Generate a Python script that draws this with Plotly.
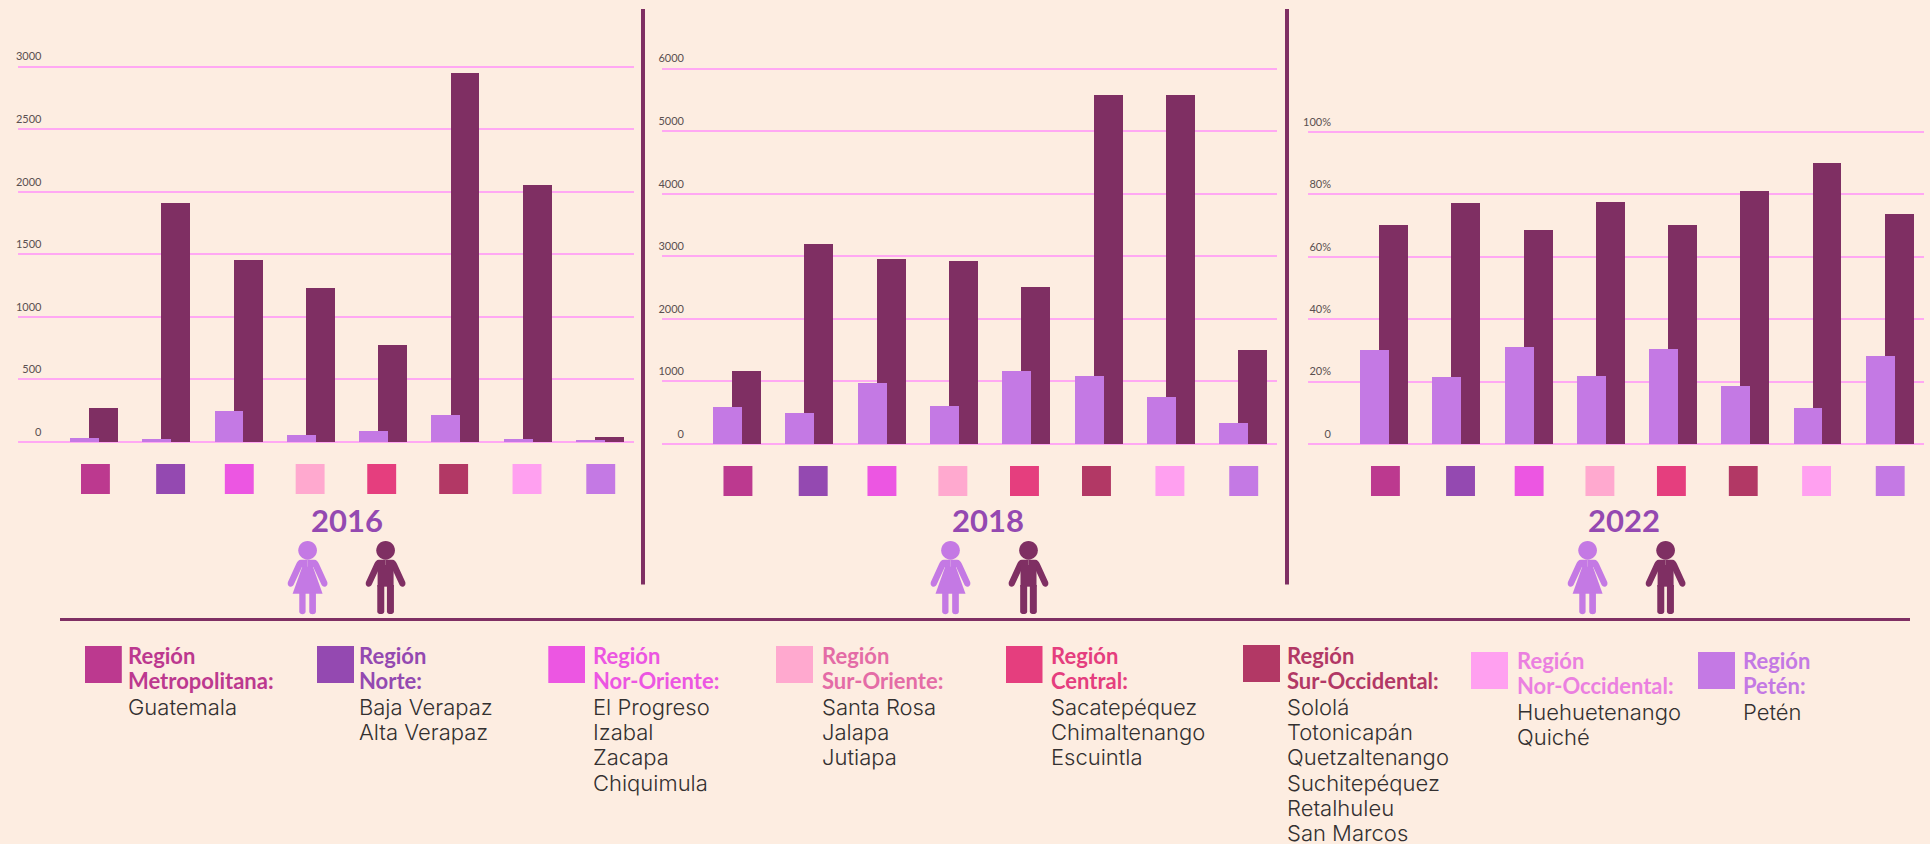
import plotly.graph_objects as go

W, H = 1930, 844
BG = "#FDEDE1"
DARK = "#7F2F63"
LIGHT = "#C479E4"
GRID = "#FFA8F3"
FONT = "Lato"
BODY_FONT = "Inter"

REGIONS = ["Metropolitana", "Norte", "Nor-Oriente", "Sur-Oriente",
           "Central", "Sur-Occidental", "Nor-Occidental", "Petén"]
SWATCHES = ["#BC398F", "#9449B1", "#EC56E2", "#FFA9CF",
            "#E53E7E", "#B23865", "#FFA0F0", "#C479E4"]
TITLE_COLORS = ["#BC398F", "#9449B1", "#EC56E2", "#E46CA6",
                "#E53E7E", "#B23865", "#EB80E0", "#C479E4"]
DEPARTMENTS = [
    ["Guatemala"],
    ["Baja Verapaz", "Alta Verapaz"],
    ["El Progreso", "Izabal", "Zacapa", "Chiquimula"],
    ["Santa Rosa", "Jalapa", "Jutiapa"],
    ["Sacatepéquez", "Chimaltenango", "Escuintla"],
    ["Sololá", "Totonicapán", "Quetzaltenango", "Suchitepéquez", "Retalhuleu", "San Marcos"],
    ["Huehuetenango", "Quiché"],
    ["Petén"],
]

women_2016 = [33, 26, 246, 56, 90, 219, 23, 19]
men_2016 = [273, 1906, 1451, 1232, 777, 2947, 2055, 42]
women_2018 = [590, 487, 966, 605, 1172, 1083, 747, 341]
men_2018 = [1166, 3199, 2952, 2925, 2514, 5571, 5576, 1505]
women_2022 = [30.1, 21.6, 31.3, 21.8, 30.5, 18.8, 11.6, 28.3]
men_2022 = [70.2, 77.4, 68.8, 77.6, 70.3, 81.3, 90.0, 73.8]

ticks_2016 = [0, 500, 1000, 1500, 2000, 2500, 3000]
ticks_2018 = [0, 1000, 2000, 3000, 4000, 5000, 6000]
ticks_2022 = [0, 20, 40, 60, 80, 100]
ticktext_2022 = ["0", "20%", "40%", "60%", "80%", "100%"]

# Small horizontal shift of each colour key under its bar group, in category units
SWATCH_NUDGE = [0.02, 0.06, 0.01, -0.01, -0.02, -0.025, -0.01, 0.01]
HEADROOM = 1.02  # range runs a little past the last tick so that its gridline is drawn

PANELS = [
    dict(year="2016", women=women_2016, men=men_2016, ticks=ticks_2016, text=[str(t) for t in ticks_2016],
         x0=18, x1=634, xr=(-1.051, 7.47), ytop=66.6, yzero=442, label_x=41.5, title_x=347.4, fem=307.6, mal=385.6, sw=(464, 494)),
    dict(year="2018", women=women_2018, men=men_2018, ticks=ticks_2018, text=[str(t) for t in ticks_2018],
         x0=661.6, x1=1277, xr=(-1.035, 7.47), ytop=68.6, yzero=444, label_x=684, title_x=988.3, fem=950.5, mal=1028.5, sw=(466, 496)),
    dict(year="2022", women=women_2022, men=men_2022, ticks=ticks_2022, text=ticktext_2022,
         x0=1307.8, x1=1923.8, xr=(-1.055, 7.475), ytop=132, yzero=444, label_x=1331, title_x=1624, fem=1587.6, mal=1665.6, sw=(466, 496)),
]


def px(x):
    return x / W


def py(y):
    return 1 - y / H


def path(cmds, cx, top=530.0):
    """Icon outline given in 1/3 px units round a centre line, returned in paper coordinates."""
    out = []
    for c in cmds:
        if c == "Z":
            out.append("Z")
            continue
        op, nums = c[0], c[1:]
        pts = []
        for i in range(0, len(nums), 2):
            pts.append(f"{px(cx + nums[i] / 3):.6f},{py(top + nums[i + 1] / 3):.6f}")
        out.append(op + " " + " ".join(pts))
    return " ".join(out)


def circle(cx_u, cy_u, r):
    k = 0.5523 * r
    return [("M", cx_u - r, cy_u),
            ("C", cx_u - r, cy_u - k, cx_u - k, cy_u - r, cx_u, cy_u - r),
            ("C", cx_u + k, cy_u - r, cx_u + r, cy_u - k, cx_u + r, cy_u),
            ("C", cx_u + r, cy_u + k, cx_u + k, cy_u + r, cx_u, cy_u + r),
            ("C", cx_u - k, cy_u + r, cx_u - r, cy_u + k, cx_u - r, cy_u), "Z"]


def leg(a, b, y0, y1):
    r = (b - a) / 2
    return [("M", a, y0), ("L", b, y0), ("L", b, y1 - r),
            ("C", b, y1, a, y1, a, y1 - r), "Z"]


def shoulders(s):
    """One side of the upper body with its arm; s=-1 left, s=1 right."""
    return [("M", 0, 89), ("L", s * 20, 89),
            ("C", s * 27, 89, s * 31, 94, s * 34, 101),
            ("L", s * 59, 156),
            ("C", s * 63, 172, s * 45, 175, s * 41, 163),
            ("L", s * 17, 111), ("L", 0, 111), "Z"]


FEMALE = [circle(0, 61, 28), shoulders(-1), shoulders(1),
          [("M", -16, 110), ("L", -45, 191), ("L", 45, 191), ("L", 16, 110), "Z"],
          leg(-25, -6, 188, 255), leg(5, 25, 188, 255)]
MALE = [circle(0, 61, 28), shoulders(-1), shoulders(1),
        [("M", -24, 105), ("L", 24, 105), ("L", 24, 170), ("L", -24, 170), "Z"],
        leg(-25, -4, 165, 255), leg(4, 25, 165, 255)]

fig = go.Figure()
shapes = []
annotations = []
layout = {}

for i, p in enumerate(PANELS):
    n = "" if i == 0 else str(i + 1)
    xa, ya = "x" + n, "y" + n
    fig.add_bar(x=REGIONS, y=p["men"], name="Hombres " + p["year"], marker_color=DARK, marker_line_width=0,
                width=0.40, offset=-0.068, xaxis=xa, yaxis=ya, showlegend=False)
    fig.add_bar(x=REGIONS, y=p["women"], name="Mujeres " + p["year"], marker_color=LIGHT, marker_line_width=0,
                width=0.40, offset=-0.332, xaxis=xa, yaxis=ya, showlegend=False)
    layout["xaxis" + n] = dict(domain=[px(p["x0"]), px(p["x1"])], anchor=ya, type="category",
                               categoryorder="array", categoryarray=REGIONS,
                               range=list(p["xr"]), showgrid=False, showticklabels=False,
                               ticks="", showline=False, zeroline=False, fixedrange=True)
    top_px = p["yzero"] - (p["yzero"] - p["ytop"]) * HEADROOM
    layout["yaxis" + n] = dict(domain=[py(p["yzero"]), py(top_px)], anchor="free", position=px(p["label_x"]),
                               range=[0, p["ticks"][-1] * HEADROOM], tickmode="array",
                               tickvals=p["ticks"], ticktext=p["text"],
                               showgrid=True, gridcolor=GRID, gridwidth=1.6,
                               zeroline=True, zerolinecolor=GRID, zerolinewidth=1.6,
                               showline=False, ticks="", ticklabelshift=-10, ticklabelstandoff=0,
                               tickfont=dict(family=FONT, size=11, color="#5A5050"), fixedrange=True)
    # colour keys under the bars
    for j, c in enumerate(SWATCHES):
        shapes.append(dict(type="rect", xref=xa, yref="paper",
                           x0=j + SWATCH_NUDGE[j] - 0.2, x1=j + SWATCH_NUDGE[j] + 0.2,
                           y0=py(p["sw"][1]), y1=py(p["sw"][0]), fillcolor=c, line_width=0))
    annotations.append(dict(text="<b>" + p["year"] + "</b>", xref="paper", yref="paper", x=px(p["title_x"]), y=py(520),
                            xanchor="center", yanchor="middle", showarrow=False,
                            font=dict(family=FONT, size=31, color="#9449B1")))
    for part in FEMALE:
        shapes.append(dict(type="path", xref="paper", yref="paper", path=path(part, p["fem"]),
                           fillcolor=LIGHT, line_width=0))
    for part in MALE:
        shapes.append(dict(type="path", xref="paper", yref="paper", path=path(part, p["mal"]),
                           fillcolor=DARK, line_width=0))

# divider lines
for x in (643, 1287):
    shapes.append(dict(type="line", xref="paper", yref="paper", x0=px(x), x1=px(x), y0=py(9), y1=py(584.5),
                       line=dict(color=DARK, width=4)))
shapes.append(dict(type="line", xref="paper", yref="paper", x0=px(60), x1=px(1910), y0=py(619.5), y1=py(619.5),
                   line=dict(color=DARK, width=3)))

# regional key at the bottom
KEY_X = [85, 317, 548.3, 776, 1006, 1243, 1471, 1698]
KEY_TEXT_X = [127, 358, 592, 821, 1050, 1285.5, 1516, 1741.5]
KEY_W = [36.8, 37, 36.7, 37, 36.5, 37, 37, 37]
KEY_TOP = [646, 646, 646, 646, 646, 645, 652, 652]
for j, r in enumerate(REGIONS):
    top = KEY_TOP[j]
    shapes.append(dict(type="rect", xref="paper", yref="paper", x0=px(KEY_X[j]), x1=px(KEY_X[j] + KEY_W[j]),
                       y0=py(top + 37), y1=py(top), fillcolor=SWATCHES[j], line_width=0))
    base = 655 if top < 650 else 660
    for k, t in enumerate(["Región", r + ":"]):
        annotations.append(dict(text="<b>" + t + "</b>", xref="paper", yref="paper", x=px(KEY_TEXT_X[j]),
                                y=py(base + k * 25.3), xanchor="left", yanchor="middle", showarrow=False,
                                borderpad=0, font=dict(family=FONT, size=22, color=TITLE_COLORS[j])))
    for k, d in enumerate(DEPARTMENTS[j]):
        annotations.append(dict(text=d, xref="paper", yref="paper", x=px(KEY_TEXT_X[j]),
                                y=py(base + 51.7 + k * 25.3), xanchor="left", yanchor="middle", showarrow=False,
                                borderpad=0, font=dict(family=BODY_FONT, size=22, weight=300, color="#333030")))

fig.update_layout(width=W, height=H, margin=dict(l=0, r=0, t=0, b=0, autoexpand=False), autosize=False,
                  paper_bgcolor=BG, plot_bgcolor=BG, barmode="overlay", bargap=0,
                  shapes=shapes, annotations=annotations, showlegend=False, **layout)

fig.write_html("out.html", config={"displayModeBar": False},
               post_script="document.body.style.margin='0';document.body.style.overflow='hidden';document.body.style.background='" + BG + "';")
